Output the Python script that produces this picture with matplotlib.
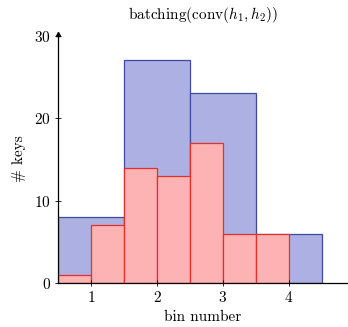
import matplotlib
matplotlib.use("Agg")
import matplotlib.pyplot as plt

matplotlib.rcParams['font.family'] = 'serif'
matplotlib.rcParams['font.serif'] = ['cmr10']
matplotlib.rcParams['mathtext.fontset'] = 'cm'
matplotlib.rcParams['axes.formatter.use_mathtext'] = True

# coarse bins (width 1) and fine bins (width 0.5)
coarse_left = [0.5, 1.5, 2.5, 3.5]
coarse_counts = [8, 27, 23, 6]
fine_left = [0.5, 1.0, 1.5, 2.0, 2.5, 3.0, 3.5]
fine_counts = [1, 7, 14, 13, 17, 6, 6]

fig = plt.figure(figsize=(3.48, 3.27), dpi=100)
ax = fig.add_axes([0.167, 0.134, 0.833, 0.762])

ax.bar(coarse_left, coarse_counts, width=1.0, align='edge',
       color='#adb0e2', edgecolor='#3b4ba6', linewidth=0.9)
ax.bar(fine_left, fine_counts, width=0.5, align='edge',
       color='#fdb3b3', edgecolor='#e2312b', linewidth=0.9)

ax.set_xlim(0.5, 4.9)
ax.set_ylim(0, 30.2)
ax.set_xticks([1, 2, 3, 4])
ax.set_yticks([0, 10, 20, 30])
ax.tick_params(direction='inout', length=4, width=0.6, labelsize=11, pad=3)
for s in ['top', 'right']:
    ax.spines[s].set_visible(False)
for s in ['left', 'bottom']:
    ax.spines[s].set_linewidth(0.9)
ax.plot([0.5], [30.2], marker='^', color='black', markersize=3,
        clip_on=False, zorder=5)

ax.set_xlabel('bin number', fontsize=11, labelpad=4)
ax.set_ylabel('# keys', fontsize=11, labelpad=6)
ax.set_title(r'batching(conv($h_1,h_2$))', fontsize=11, pad=11)

fig.savefig('out.png', dpi=100)
